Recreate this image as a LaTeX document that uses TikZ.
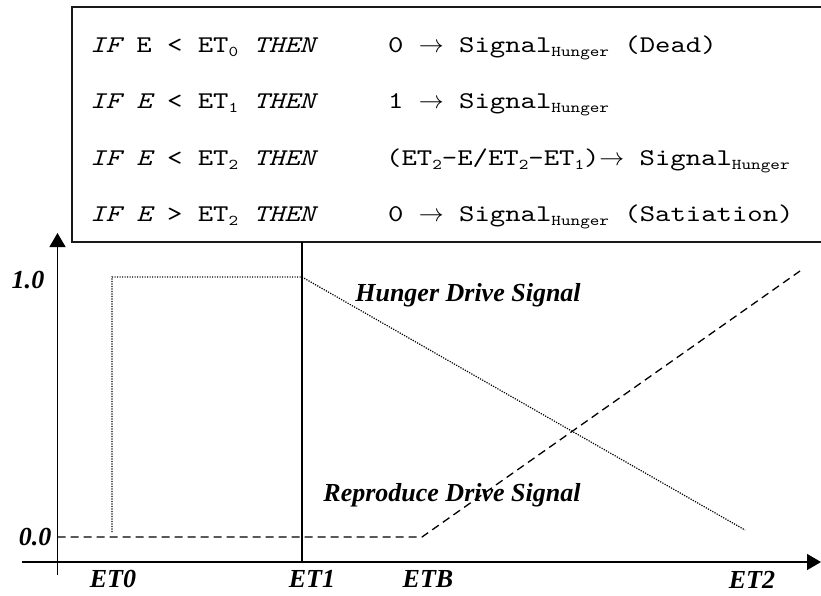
\documentclass[tikz,border=0pt]{standalone}
\usepackage{fontspec}
\setmainfont{Liberation Serif}
\newfontfamily\codefont{lmmono10-regular.otf}[ItalicFont=lmmono10-italic.otf, FakeStretch=1.22]
\usetikzlibrary{arrows.meta}
% lowered small text for indices inside the rule box
\newcommand{\lowsub}[1]{\raisebox{-4pt}{\fontsize{15}{15}\selectfont #1}}
\newcommand{\toarrow}{$\rightarrow$}
\begin{document}
\begin{tikzpicture}[x=1pt,y=-1pt,
  rule/.style={font=\codefont\fontsize{24}{24}\selectfont, anchor=base west, inner sep=0pt},
  lbl/.style={font=\rmfamily\bfseries\itshape\fontsize{26}{26}\selectfont, inner sep=0pt},
  frame/.style={line width=1.6pt, draw=black!90},
  axis/.style={line width=1.4pt, -{Triangle[width=16pt,length=14pt]}},
  hunger/.style={line width=1.2pt, dash pattern=on 1.2pt off 1.3pt},
  reproduce/.style={line width=1.3pt, dash pattern=on 8pt off 5pt}]
\useasboundingbox (0,0) rectangle (821,595);
\clip (0,0) rectangle (821,595);

% rule box
\draw[frame] (72,7) rectangle (840,242);
\node[rule] (c1) at (90,52)  {{\itshape IF} E < ET\lowsub{0} {\itshape THEN}};
\node[rule] (c2) at (90,108) {{\itshape IF E} < ET\lowsub{1} {\itshape THEN}};
\node[rule] (c3) at (90,165) {{\itshape IF E} < ET\lowsub{2} {\itshape THEN}};
\node[rule] (c4) at (90,221) {{\itshape IF E} > ET\lowsub{2} {\itshape THEN}};
\node[rule] (r1) at (388,52)  {0 \toarrow{} Signal\lowsub{Hunger} (Dead)};
\node[rule] (r2) at (388,108) {1 \toarrow{} Signal\lowsub{Hunger}};
\node[rule] (r3) at (386,165) {(ET\lowsub{2}-E/ET\lowsub{2}-ET\lowsub{1})\toarrow{} Signal\lowsub{Hunger}};
\node[rule] (r4) at (388,221) {0 \toarrow{} Signal\lowsub{Hunger} (Satiation)};

% axes
\coordinate (ybot) at (57.5,575);
\coordinate (ytop) at (57.5,233);
\coordinate (xleft) at (22,562);
\coordinate (xright) at (821,562);
\draw[axis] (ybot) -- (ytop);
\draw[axis] (xleft) -- (xright);

% ET1 marker line
\coordinate (et1top) at (302,242);
\coordinate (et1bot) at (302,562);
\draw[line width=1.3pt] (et1top) -- (et1bot);

% hunger drive signal
\coordinate (h0) at (112,532);
\coordinate (h1) at (112,277);
\coordinate (h2) at (302,277);
\coordinate (h3) at (745,530);
\draw[hunger] (h0) -- (h1) -- (h2) -- (h3);

% reproduce drive signal
\coordinate (p0) at (57.5,537);
\coordinate (p1) at (422,537);
\coordinate (p2) at (800,271);
\draw[reproduce] (p0) -- (p1) -- (p2);

% labels
\node[lbl] (one)  at (28,280) {1.0};
\node[lbl] (zero) at (35,537) {0.0};
\node[lbl] (t0) at (113,579) {ET0};
\node[lbl] (t1) at (312,579) {ET1};
\node[lbl] (tb) at (428,579) {ETB};
\node[lbl] (t2) at (752,580) {ET2};
\node[lbl] (hl) at (468,295) {Hunger Drive Signal};
\node[lbl] (rl) at (452,495) {Reproduce Drive Signal};
\end{tikzpicture}
\end{document}
